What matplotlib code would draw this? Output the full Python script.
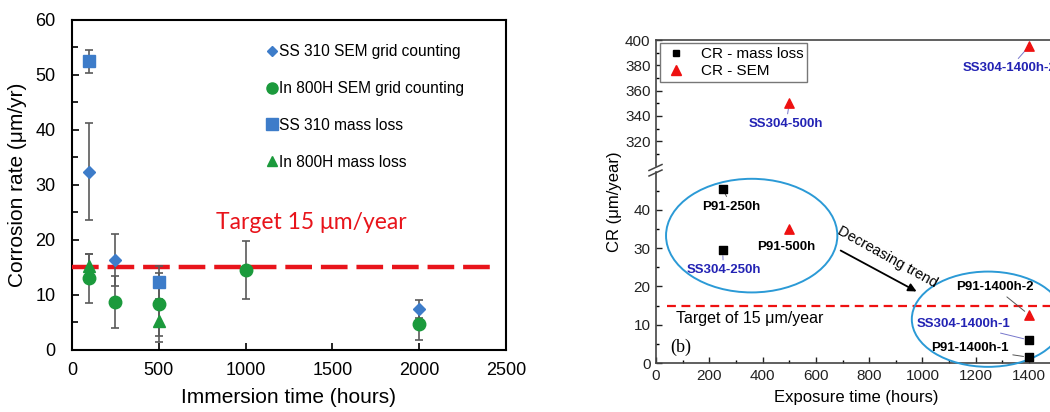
import matplotlib.pyplot as plt
from matplotlib.patches import Ellipse
from matplotlib.lines import Line2D

plt.rcParams['font.family'] = ['Liberation Sans', 'DejaVu Sans']

# ---- panel (a): immersion test ----
ss310_sem_x = [100, 250, 2000]
ss310_sem_y = [32.4, 16.4, 7.5]
ss310_sem_err = [8.8, 4.7, 1.6]

in800_sem_x = [100, 250, 500, 1000, 2000]
in800_sem_y = [13.0, 8.7, 8.3, 14.6, 4.8]
in800_sem_err = [4.4, 4.7, 5.7, 5.3, 2.9]

ss310_ml_x = [100, 500]
ss310_ml_y = [52.5, 12.3]
ss310_ml_err = [2.1, 3.0]

in800_ml_x = [100, 500]
in800_ml_y = [15.3, 5.2]
in800_ml_err = [2.2, 3.8]

target_a = 15

# ---- panel (b): exposure test ----
ml_x = [250, 250, 1400, 1400]
ml_y = [45.5, 29.5, 6.0, 1.5]
sem_x = [500, 500, 1400, 1400]
sem_y = [35.0, 350.0, 395.0, 12.6]
target_b = 15

blue = '#3d7cc9'
green = '#1b9a3c'
lblue = '#2323b4'

fig = plt.figure(figsize=(10.5, 4.12), dpi=100)

# ================= left panel =================
ax = fig.add_axes([0.0686, 0.1505, 0.4133, 0.801])
ekw = dict(ecolor='#5a5a5a', elinewidth=1.2, capsize=3, capthick=1.2, linestyle='none')
ax.errorbar(ss310_sem_x, ss310_sem_y, yerr=ss310_sem_err, fmt='D', color=blue,
            ms=6, zorder=4, **ekw)
ax.errorbar(in800_sem_x, in800_sem_y, yerr=in800_sem_err, fmt='o', color=green,
            ms=9, zorder=4, **ekw)
ax.errorbar(ss310_ml_x, ss310_ml_y, yerr=ss310_ml_err, fmt='s', color=blue,
            ms=9, zorder=4, **ekw)
ax.errorbar(in800_ml_x, in800_ml_y, yerr=in800_ml_err, fmt='^', color=green,
            ms=8, zorder=4, **ekw)
ax.plot([0, 2450], [target_a, target_a], color='#e8141b', lw=3.2,
        dashes=(6, 2), zorder=3)
ax.text(1377, 23.1, 'Target 15 μm/year', color='#e8141b', fontsize=16.5,
        family=['Lato', 'DejaVu Sans'], ha='center', va='center')

ax.set_xlim(0, 2500)
ax.set_ylim(0, 60)
ax.set_xticks([0, 500, 1000, 1500, 2000, 2500])
ax.set_yticks(range(0, 61, 10))
ax.set_yticks(range(5, 60, 10), minor=True)
ax.tick_params(direction='in', labelsize=13, length=5, width=1.2, pad=9)
ax.tick_params(axis='y', pad=12)
ax.tick_params(which='minor', direction='in', length=4, width=1.2)
for s in ax.spines.values():
    s.set_linewidth(1.5)
    s.set_color('black')

leg_handles = [Line2D([], [], marker='D', color=blue, ls='none', ms=5),
               Line2D([], [], marker='o', color=green, ls='none', ms=8),
               Line2D([], [], marker='s', color=blue, ls='none', ms=8),
               Line2D([], [], marker='^', color=green, ls='none', ms=7)]
leg_labels = ['SS 310 SEM grid counting', 'In 800H SEM grid counting',
              'SS 310 mass loss', 'In 800H mass loss']
ax.legend(leg_handles, leg_labels, loc='upper left', bbox_to_anchor=(0.435, 0.945),
          frameon=False, fontsize=11.2, handlelength=0.6, handletextpad=0.15,
          labelspacing=1.4, borderaxespad=0)
fig.text(0.275, 0.021, 'Immersion time (hours)', fontsize=15, ha='center')
fig.text(0.017, 0.551, 'Corrosion rate (μm/yr)', fontsize=15, ha='center',
         va='center', rotation=90)

# ================= right panel =================
axu = fig.add_axes([0.6248, 0.5959, 0.3933, 0.307])
axl = fig.add_axes([0.6248, 0.1189, 0.3933, 0.4643])

for a in (axu, axl):
    a.set_xlim(0, 1550)
    a.scatter(ml_x, ml_y, marker='s', s=30, color='black', zorder=5)
    a.scatter(sem_x, sem_y, marker='^', s=45, color='#ee1111', zorder=5)
    a.tick_params(direction='in', labelsize=11, length=4, width=1, pad=4,
                  colors='#222222')
    a.tick_params(which='minor', direction='in', length=2.5, width=1)
    a.spines['right'].set_visible(False)
    for s in a.spines.values():
        s.set_color('#444444')
        s.set_linewidth(1.2)

axu.set_ylim(300, 400)
axu.set_yticks(range(320, 401, 20))
axu.set_yticks(range(310, 400, 20), minor=True)
axu.set_xticks([])
axu.spines['bottom'].set_visible(False)

axl.set_ylim(0, 50)
axl.set_yticks(range(0, 41, 10))
axl.set_yticks(range(5, 50, 10), minor=True)
axl.set_xticks(range(0, 1401, 200))
axl.set_xticks(range(100, 1501, 200), minor=True)
axl.spines['top'].set_visible(False)

axl.plot([40, 1550], [target_b, target_b], color='#ee1111', lw=1.6,
         dashes=(4, 2.5), zorder=2)
axl.text(75, 11.7, 'Target of 15 μm/year', fontsize=11.5, va='center')
axl.text(52, 4, '(b)', fontsize=13, va='center',
         family=['Liberation Serif', 'DejaVu Serif'])

lk = dict(fontsize=9.5, fontweight='bold', ha='center', va='center')
ak = dict(arrowstyle='-', color='#555555', lw=0.7, shrinkA=1, shrinkB=4)
axl.annotate('P91-250h', xy=(250, 45.5), xytext=(284, 40.9), arrowprops=ak, **lk)
axl.text(490, 30.2, 'P91-500h', **lk)
axl.annotate('SS304-250h', xy=(250, 29.5), xytext=(253, 24.3), color=lblue,
             arrowprops=dict(ak, color='#7777cc'), **lk)
axu.annotate('SS304-500h', xy=(500, 350), xytext=(488, 333.6), color=lblue,
             arrowprops=dict(ak, color='#7777cc'), **lk)
axu.annotate('SS304-1400h-2', xy=(1400, 395), xytext=(1151, 377.6), color=lblue,
             arrowprops=dict(ak, color='#7777cc'), fontsize=9.5,
             fontweight='bold', ha='left', va='center')
axl.annotate('P91-1400h-2', xy=(1400, 12.6), xytext=(1272, 19.8),
             arrowprops=ak, **lk)
axl.annotate('SS304-1400h-1', xy=(1400, 6.0), xytext=(1153, 10.2), color=lblue,
             arrowprops=dict(ak, color='#7777cc'), **lk)
axl.annotate('P91-1400h-1', xy=(1400, 1.5), xytext=(1178, 3.8),
             arrowprops=ak, **lk)

axl.add_patch(Ellipse((359, 33.3), 643, 29.7, fill=False, ec='#2b9ad6', lw=1.4,
                      zorder=3))
axl.add_patch(Ellipse((1246, 11.45), 572, 24.9, fill=False, ec='#2b9ad6', lw=1.4,
                      zorder=3, clip_on=False))
axl.annotate('', xy=(978, 18.7), xytext=(693, 29.4),
             arrowprops=dict(arrowstyle='-|>', color='black', lw=1.3,
                             mutation_scale=12, shrinkA=0, shrinkB=0))
axl.text(870, 27.8, 'Decreasing trend', fontsize=10.5, rotation=-29,
         ha='center', va='center')

axu.legend(handles=[Line2D([], [], marker='s', color='black', ls='none', ms=5),
                    Line2D([], [], marker='^', color='#ee1111', ls='none', ms=7)],
           labels=['CR - mass loss', 'CR - SEM'], loc='upper left',
           bbox_to_anchor=(0.01, 0.976), fontsize=11, fancybox=False,
           edgecolor='#777777', framealpha=1, borderpad=0.25, labelspacing=0.2,
           handlelength=1.6, handletextpad=0.8, borderaxespad=0)

# axis break marks
for yy in (170.5, 176):
    fig.add_artist(Line2D([649 / 1050, 662 / 1050],
                          [(412 - yy) / 412, (412 - yy + 6) / 412],
                          color='#444444', lw=1.1))

fig.text(0.815, 0.025, 'Exposure time (hours)', fontsize=12, ha='center')
fig.text(0.5857, 0.51, 'CR (μm/year)', fontsize=12, ha='center',
         va='center', rotation=90)

fig.savefig('out.png', dpi=100)
